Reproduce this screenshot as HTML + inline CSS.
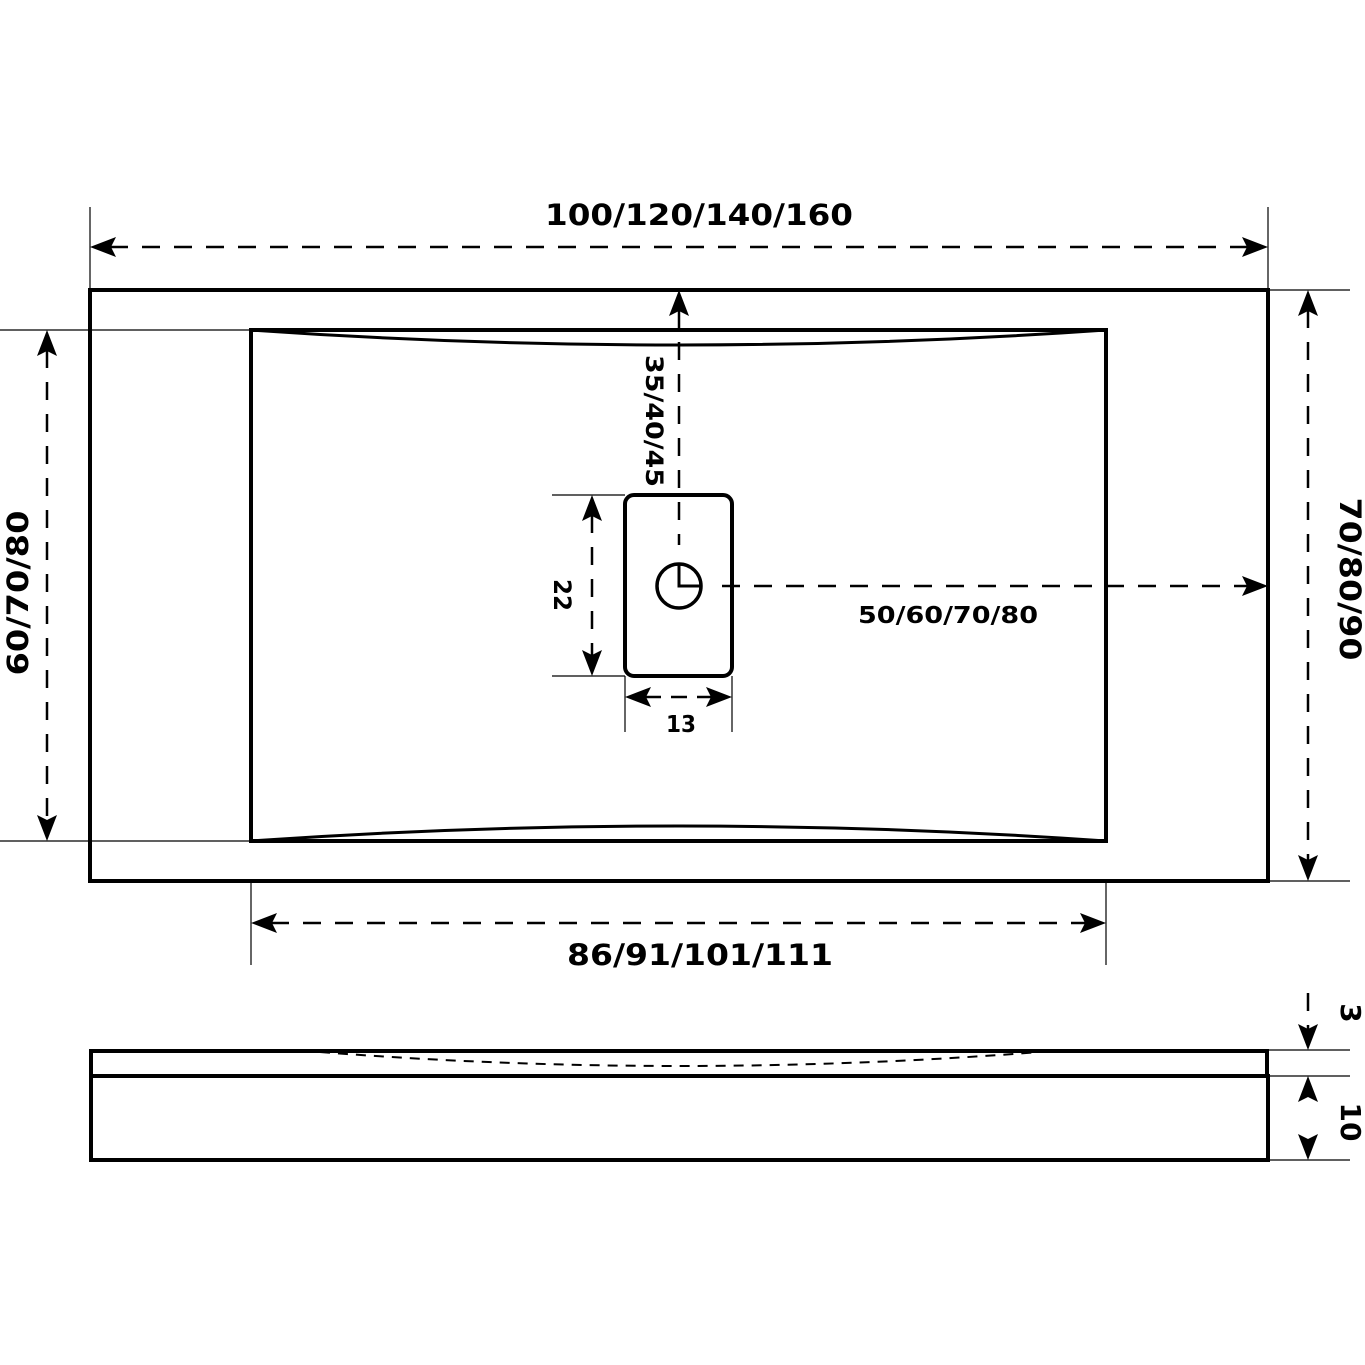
<!DOCTYPE html>
<html><head><meta charset="utf-8"><style>
html,body{margin:0;padding:0;background:#fff}
svg{display:block}
text{font-family:"DejaVu Sans","Liberation Sans",sans-serif;font-weight:bold;fill:#000}
</style></head><body>
<svg width="1365" height="1365" viewBox="0 0 1365 1365" xmlns="http://www.w3.org/2000/svg">
<g fill="none" stroke="#000">
<rect x="90" y="290" width="1178" height="591" stroke-width="4"/>
<rect x="251" y="330" width="855" height="511" stroke-width="4"/>
<path d="M251 330 Q679 360 1106 330" stroke-width="3"/>
<path d="M251 841 Q679 811 1106 841" stroke-width="3"/>
<rect x="625" y="495" width="107" height="181" rx="9" stroke-width="4"/>
<circle cx="679" cy="586" r="22" stroke-width="3.5"/>
<path d="M679 564 V586 H701" stroke-width="3"/>
<g stroke-width="1.2">
<path d="M90 207V290M1268 207V290"/>
<path d="M0 330H251M0 841H251"/>
<path d="M1268 290H1350M1268 881H1350"/>
<path d="M251 881V965M1106 881V965"/>
<path d="M552 495H625M552 676H625"/>
<path d="M625 676V732M732 676V732"/>
<path d="M1268 1050H1350M1268 1076H1350M1268 1160H1350"/>
</g>
<g stroke-width="2.5" stroke-dasharray="18 14">
<path d="M110 247H1248"/>
<path d="M47 350V821"/>
<path d="M1308 310V861"/>
<path d="M271 923H1086"/>
<path d="M679 310V545"/>
<path d="M722 586H1248"/>
<path d="M592 515V656"/>
<path d="M645 697H712" stroke-dasharray="16 10"/>
<path d="M1308 993V1030"/>
<path d="M320 1052 Q679 1080 1040 1052" stroke-width="2" stroke-dasharray="10 8"/>
</g>
<rect x="91" y="1051" width="1176" height="25" stroke-width="4"/>
<rect x="91" y="1076" width="1177" height="84" stroke-width="4"/>
</g>
<g fill="#000">
<path d="M90 247l26-10-5 10 5 10z"/><path d="M1268 247l-26-10 5 10-5 10z"/>
<path d="M47 330l-10 26 10-5 10 5z"/><path d="M47 841l-10-26 10 5 10-5z"/>
<path d="M1308 290l-10 26 10-5 10 5z"/><path d="M1308 881l-10-26 10 5 10-5z"/>
<path d="M251 923l26-10-5 10 5 10z"/><path d="M1106 923l-26-10 5 10-5 10z"/>
<path d="M679 290l-10 26 10-5 10 5z"/>
<path d="M1268 586l-26-10 5 10-5 10z"/>
<path d="M592 495l-10 26 10-5 10 5z"/><path d="M592 676l-10-26 10 5 10-5z"/>
<path d="M625 697l26-10-5 10 5 10z"/><path d="M732 697l-26-10 5 10-5 10z"/>
<path d="M1308 1050l-10-26 10 5 10-5z"/>
<path d="M1308 1076l-10 26 10-5 10 5z"/><path d="M1308 1160l-10-26 10 5 10-5z"/>
</g>
<text x="699" y="225" font-size="29" text-anchor="middle" textLength="308" lengthAdjust="spacingAndGlyphs">100/120/140/160</text>
<text x="700" y="965" font-size="29" text-anchor="middle" textLength="266" lengthAdjust="spacingAndGlyphs">86/91/101/111</text>
<text x="948" y="623" font-size="23" text-anchor="middle" textLength="180" lengthAdjust="spacingAndGlyphs">50/60/70/80</text>
<text x="681" y="732" font-size="23" text-anchor="middle" textLength="30" lengthAdjust="spacingAndGlyphs">13</text>
<text transform="translate(28 593) rotate(-90)" font-size="29" text-anchor="middle" textLength="165" lengthAdjust="spacingAndGlyphs">60/70/80</text>
<text transform="translate(1340 579) rotate(90)" font-size="29" text-anchor="middle" textLength="163" lengthAdjust="spacingAndGlyphs">70/80/90</text>
<text transform="translate(646 421) rotate(90)" font-size="24" text-anchor="middle" textLength="132" lengthAdjust="spacingAndGlyphs">35/40/45</text>
<text transform="translate(554 595) rotate(90)" font-size="24" text-anchor="middle" textLength="32" lengthAdjust="spacingAndGlyphs">22</text>
<text transform="translate(1341 1013) rotate(90)" font-size="28" text-anchor="middle">3</text>
<text transform="translate(1341 1122) rotate(90)" font-size="28" text-anchor="middle">10</text>
</svg>
</body></html>
